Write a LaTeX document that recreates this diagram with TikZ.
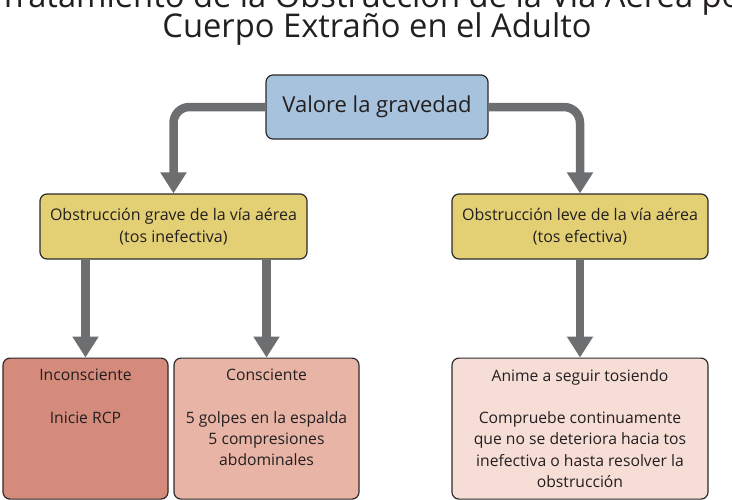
\documentclass[tikz,border=0pt]{standalone}
\usepackage{fontspec}
\setmainfont{Open Sans}
\usepackage{tikz}
\usetikzlibrary{arrows.meta}
\usepackage{xcolor}

\definecolor{txtgray}{HTML}{231F20}
\definecolor{boxline}{HTML}{2B2B2B}
\definecolor{arrowgray}{HTML}{6D6E70}
\definecolor{valorfill}{HTML}{A7C2DC}
\definecolor{obstfill}{HTML}{E4D074}
\definecolor{inconfill}{HTML}{D48B7C}
\definecolor{consfill}{HTML}{E8B4A6}
\definecolor{animefill}{HTML}{F6DED6}

\tikzset{
  box/.style={draw=boxline, line width=1.2pt, rounded corners=7pt, align=center, text=txtgray},
  obst/.style={box, fill=obstfill, minimum height=65pt, font=\fontsize{16}{22}\selectfont},
  flow/.style={draw=arrowgray, line width=8.5pt, rounded corners=16pt, -{Triangle[width=25pt,length=21pt]}},
}

\newcommand{\topbox}[3]{\parbox[c][#1][t]{#2}{\centering\fontsize{15.7}{21.3}\selectfont\vspace{11pt}#3}}

\begin{document}
\begin{tikzpicture}[x=1pt, y=-1pt]
  \useasboundingbox (0,0) rectangle (732,499);
  \clip (0,0) rectangle (732,499);

  \node[anchor=base, text=txtgray, font=\fontsize{32.7}{30}\selectfont] (title1) at (377,7) {Tratamiento de la Obstrucción de la Vía Aérea por};
  \node[anchor=base, text=txtgray, font=\fontsize{32.7}{30}\selectfont] (title2) at (377,37) {Cuerpo Extraño en el Adulto};

  \node[box, fill=valorfill, minimum width=222pt, minimum height=64pt, font=\fontsize{22}{26}\selectfont] (valor) at (377,107) {Valore la gravedad};

  \node[obst, minimum width=267pt] (grave) at (173.5,226.5) {Obstrucción grave de la vía aérea\\(tos inefectiva)};
  \node[obst, minimum width=256pt] (leve) at (580,226.5) {Obstrucción leve de la vía aérea\\(tos efectiva)};

  \node[box, fill=inconfill, anchor=north, inner sep=0pt] (incon) at (85.5,357.5)
    {\topbox{141pt}{165pt}{Inconsciente\\[21.3pt]Inicie RCP}};
  \node[box, fill=consfill, anchor=north, inner sep=0pt] (consc) at (266.5,357.5)
    {\topbox{141pt}{185pt}{Consciente\\[21.3pt]5 golpes en la espalda\\5 compresiones\\abdominales}};
  \node[box, fill=animefill, anchor=north, inner sep=0pt] (anime) at (580,357.5)
    {\topbox{141pt}{256pt}{Anime a seguir tosiendo\\[21.3pt]Compruebe continuamente\\que no se deteriora hacia tos\\inefectiva o hasta resolver la\\obstrucción}};

  \draw[flow] (valor.west) -| (grave.north);
  \draw[flow] (valor.east) -| (leve.north);
  \draw[flow] (grave.south -| incon.north) -- (incon.north);
  \draw[flow] (grave.south -| consc.north) -- (consc.north);
  \draw[flow] (leve.south) -- (anime.north);

\end{tikzpicture}
\end{document}
